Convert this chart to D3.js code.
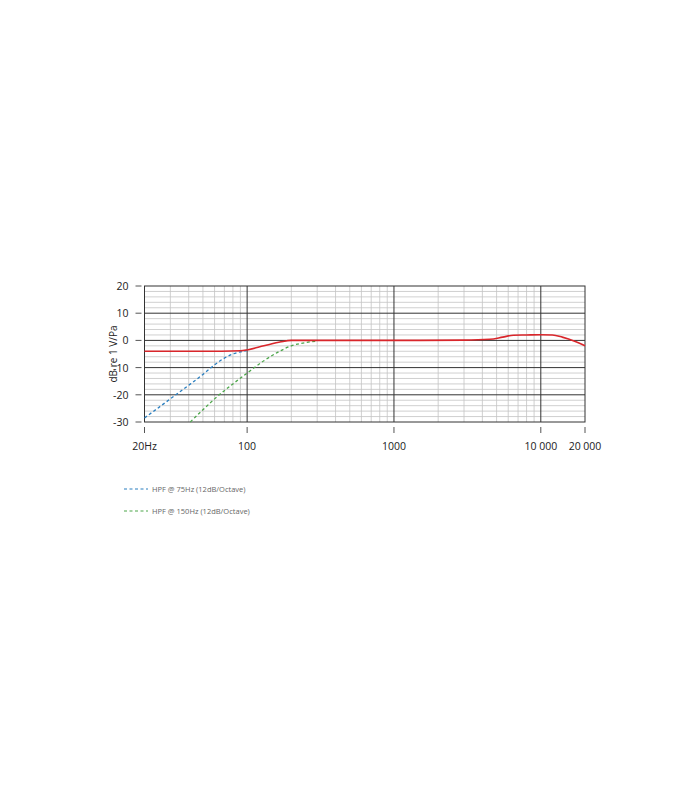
<!DOCTYPE html>
<html><head><meta charset="UTF-8">
<script src="https://d3js.org/d3.v7.min.js"></script>
<style>body{margin:0;background:#fff;font-family:"Open Sans",sans-serif}</style>
</head><body>
<svg id="c" width="700" height="800"></svg>
<script>
var redFreq = [20, 50, 90, 100, 130, 170, 200, 300, 1000, 3000, 4500, 5500, 6500, 8000, 10000, 12000, 14000, 17000, 20000];
var redDb   = [-4, -4, -3.8, -3.5, -2, -0.5, 0, 0, 0, 0.1, 0.4, 1.2, 1.9, 2, 2.1, 2, 1.2, -0.3, -2];
var blueFreq = [20, 30, 40, 50, 60, 70, 80, 90, 100];
var blueDb   = [-28.5, -21.5, -16.5, -12.5, -9, -6.5, -5, -4.2, -3.7];
var greenFreq = [41, 50, 60, 80, 100, 130, 160, 200, 250, 300];
var greenDb   = [-30, -25.5, -21.5, -16, -12, -7.5, -4.5, -2, -0.8, -0.3];
var xTicks = [20, 100, 1000, 10000, 20000];
var xTickLabels = ["20Hz", "100", "1000", "10 000", "20 000"];
var yTicks = [20, 10, 0, -10, -20, -30];
var legendLabels = ["HPF @ 75Hz (12dB/Octave)", "HPF @ 150Hz (12dB/Octave)"];

var svg = d3.select("#c");
var x = d3.scaleLog().domain([20, 20000]).range([144.5, 585]);
var y = d3.scaleLinear().domain([-30, 20]).range([422, 286]);
var g = svg.append("g");

// minor vertical grid
var minors = [];
[10, 100, 1000, 10000].forEach(function(d) {
  for (var k = 2; k <= 9; k++) { var f = d * k; if (f > 20 && f < 20000 && k !== 1) minors.push(f); }
});
g.selectAll(".vm").data(minors).enter().append("line")
  .attr("x1", d => x(d)).attr("x2", d => x(d)).attr("y1", y(20)).attr("y2", y(-30))
  .attr("stroke", "#c4c4c4").attr("stroke-width", 0.8);
var hm = d3.range(-28, 20, 2).filter(d => d % 10 !== 0);
g.selectAll(".hm").data(hm).enter().append("line")
  .attr("x1", x(20)).attr("x2", x(20000)).attr("y1", d => y(d)).attr("y2", d => y(d))
  .attr("stroke", "#c4c4c4").attr("stroke-width", 0.8);
g.selectAll(".vM").data([100, 1000, 10000]).enter().append("line")
  .attr("x1", d => x(d)).attr("x2", d => x(d)).attr("y1", y(20)).attr("y2", y(-30))
  .attr("stroke", "#333").attr("stroke-width", 1);
g.selectAll(".hM").data([10, 0, -10, -20]).enter().append("line")
  .attr("x1", x(20)).attr("x2", x(20000)).attr("y1", d => y(d)).attr("y2", d => y(d))
  .attr("stroke", "#333").attr("stroke-width", 1);
g.append("rect").attr("x", x(20)).attr("y", y(20)).attr("width", x(20000) - x(20)).attr("height", y(-30) - y(20))
  .attr("fill", "none").attr("stroke", "#333").attr("stroke-width", 1);

// y ticks
g.selectAll(".yt").data(yTicks).enter().append("line")
  .attr("x1", x(20) - 9).attr("x2", x(20) - 3).attr("y1", d => y(d)).attr("y2", d => y(d)).attr("stroke", "#555");
g.selectAll(".yl").data(yTicks).enter().append("text")
  .attr("x", x(20) - 16).attr("y", d => y(d) + 4).attr("text-anchor", "end")
  .attr("font-size", 10.5).attr("fill", "#222").text(d => d);
g.append("text").attr("transform", "translate(" + (x(20) - 28) + "," + y(-5) + ") rotate(-90)")
  .attr("text-anchor", "middle").attr("font-size", 10).attr("fill", "#222").text("dB re 1 V/Pa");

// x ticks
g.selectAll(".xt").data(xTicks).enter().append("line")
  .attr("x1", d => x(d)).attr("x2", d => x(d)).attr("y1", y(-30) + 5).attr("y2", y(-30) + 11).attr("stroke", "#555");
g.selectAll(".xl").data(xTicks).enter().append("text")
  .attr("x", d => x(d)).attr("y", y(-30) + 28).attr("text-anchor", "middle")
  .attr("font-size", 10.5).attr("fill", "#222").text((d, i) => xTickLabels[i]);

var line = d3.line().x(d => x(d[0])).y(d => y(d[1])).curve(d3.curveMonotoneX);
function series(f, v) { return f.map((d, i) => [d, v[i]]); }
g.append("path").attr("d", line(series(blueFreq, blueDb))).attr("fill", "none")
  .attr("stroke", "#2a7fc0").attr("stroke-width", 1.3).attr("stroke-dasharray", "3,2.5");
g.append("path").attr("d", line(series(greenFreq, greenDb))).attr("fill", "none")
  .attr("stroke", "#4ca64a").attr("stroke-width", 1.3).attr("stroke-dasharray", "3,2.5");
g.append("path").attr("d", line(series(redFreq, redDb))).attr("fill", "none")
  .attr("stroke", "#d9262b").attr("stroke-width", 1.6);

// legend
var lg = svg.selectAll(".lg").data(legendLabels).enter().append("g")
  .attr("transform", (d, i) => "translate(124," + (489 + i * 22) + ")");
lg.append("line").attr("x1", 0).attr("x2", 24).attr("stroke", (d, i) => i ? "#4ca64a" : "#2a7fc0")
  .attr("stroke-width", 1.2).attr("stroke-dasharray", "3,2.5");
lg.append("text").attr("x", 28).attr("y", 3).attr("font-size", 7.5).attr("fill", "#666").text(d => d);
</script>
</body></html>
